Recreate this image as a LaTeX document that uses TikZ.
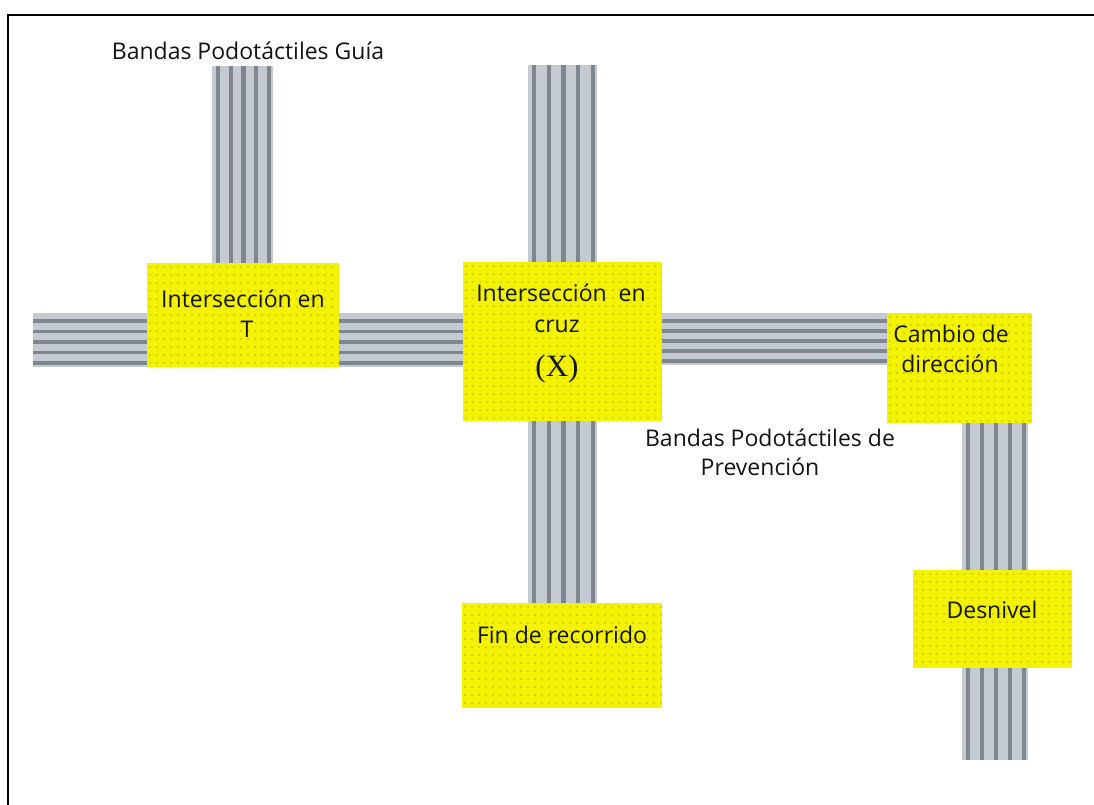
\documentclass[tikz,border=0pt]{standalone}
\usepackage{fontspec}
\setmainfont{Open Sans}
\newfontfamily\serifx{Liberation Serif}
\definecolor{bandL}{HTML}{C3CAD2}
\definecolor{bandD}{HTML}{7E868F}
\definecolor{boxY}{HTML}{F3F300}
\definecolor{dotY}{HTML}{C9C90E}
\definecolor{txt}{HTML}{141414}
\newcommand\myvband[4]{% x0,x1,y0,y1
  \fill[bandL] (#1,#3) rectangle (#2,#4);
  \foreach \k in {0,...,4} {\draw[bandD, line width=4.2pt] ({#1+6+\k*(#2-#1-10)/4},#3) -- ({#1+6+\k*(#2-#1-10)/4},#4);}
}
\newcommand\myhband[4]{% x0,x1,y0,y1
  \fill[bandL] (#1,#3) rectangle (#2,#4);
  \foreach \k in {0,...,4} {\draw[bandD, line width=3.4pt] (#1,{#3+8+\k*(#4-#3-12)/4}) -- (#2,{#3+8+\k*(#4-#3-12)/4});}
}
\newcommand\myybox[5]{% name,x0,y0,x1,y1
  \node[ybox, minimum width={#4-#2}, minimum height={#5-#3}] (#1) at ({(#2+#4)/2},{(#3+#5)/2}) {};
  \begin{scope}
    \clip (#1.north west) rectangle (#1.south east);
    \foreach \i in {0,...,29} {\foreach \j in {0,...,20} {\fill[dotY] ({#2+3+7*\i},{#3+4+8*\j}) circle (1.1);}}
  \end{scope}
}
\begin{document}
\begin{tikzpicture}[x=1pt,y=-1pt,
  ybox/.style={fill=boxY, draw=none, inner sep=0pt, outer sep=0pt, rectangle},
  lbl/.style={font=\fontsize{23}{27}\selectfont, text=txt, inner sep=0pt, anchor=base},
  frameline/.style={line width=1.8pt, black}]
\useasboundingbox (0,0) rectangle (1094,805);
\fill[white] (0,0) rectangle (1094,805);
% frame
\coordinate (fA) at (8,805);
\coordinate (fB) at (8,15);
\coordinate (fC) at (1094,15);
\draw[frameline] (fA) -- (fB) -- (fC);
% bands
\myvband{212}{273}{66}{263}
\myhband{33}{148}{313}{367}
\myhband{339}{463}{313}{367}
\myvband{528}{597}{65}{262}
\myvband{528}{597}{421}{604}
\myhband{662}{888}{313}{365}
\myvband{962}{1028}{423}{570}
\myvband{962}{1028}{667}{760}
% boxes
\myybox{tbox}{147}{263}{339}{367}
\myybox{xbox}{463}{262}{662}{421}
\myybox{finbox}{462}{603}{662}{708}
\myybox{cambox}{887}{313}{1032}{423}
\myybox{desbox}{913}{570}{1072}{668}
% labels
\node[lbl] (guia) at (248,60) {Bandas Podotáctiles Guía};
\node[lbl] (t1) at (243,307) {Intersección en};
\node[lbl] (t2) at (247,337) {T};
\node[lbl] (x1) at (561,301) {Intersección\ \ en};
\node[lbl] (x2) at (557,332) {cruz};
\node[lbl, font=\serifx\fontsize{31}{32}\selectfont] (x3) at (557,376) {(X)};
\node[lbl] (p1) at (770,446) {Bandas Podotáctiles de};
\node[lbl] (p2) at (760,475) {Prevención};
\node[lbl] (c1) at (951,342) {Cambio de};
\node[lbl] (c2) at (950,372) {dirección};
\node[lbl] (d1) at (992,618) {Desnivel};
\node[lbl] (f1) at (562,643) {Fin de recorrido};
\end{tikzpicture}
\end{document}
